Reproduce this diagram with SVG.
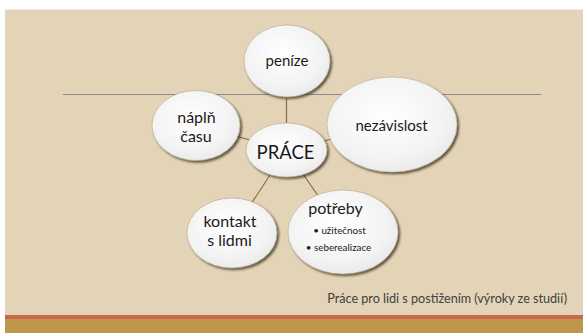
<svg xmlns="http://www.w3.org/2000/svg" width="583" height="333" viewBox="0 0 583 333">
  <defs>
    <radialGradient id="bub" cx="0.45" cy="0.4" r="0.65">
      <stop offset="0" stop-color="#ffffff"/>
      <stop offset="0.7" stop-color="#f3f3f3"/>
      <stop offset="1" stop-color="#e8e8e8"/>
    </radialGradient>
    <filter id="sh" x="-20%" y="-20%" width="150%" height="150%">
      <feGaussianBlur in="SourceAlpha" stdDeviation="1.2"/>
      <feOffset dx="1.5" dy="2" result="b"/>
      <feFlood flood-color="#3a3020" flood-opacity="0.75"/>
      <feComposite in2="b" operator="in"/>
      <feMerge><feMergeNode/><feMergeNode in="SourceGraphic"/></feMerge>
    </filter>
  </defs>
  <style>
    .bubble { fill: url(#bub); stroke: #b8a78a; stroke-width: 0.6; filter: url(#sh); }
    .conn { stroke: #8c6d47; stroke-width: 1.2; fill: none; }
    .t { font-family: Lato, "Liberation Sans", sans-serif; fill: #1a1a1a; text-anchor: middle; }
    .lg { font-size: 16px; }
    .sm { font-size: 9.8px; }
  </style>
  <rect x="0" y="0" width="583" height="333" fill="#ffffff"/>
  <rect x="5" y="9.5" width="578" height="306" fill="#e3d4b7"/>
  <rect x="5" y="315" width="578" height="4" fill="#c8694f"/>
  <rect x="5" y="319" width="578" height="14" fill="#bf974c"/>
  <line x1="63" y1="94.5" x2="541" y2="94.5" stroke="#8a8a8a" stroke-width="1.2"/>

  <g id="connectors">
    <line class="conn" x1="286.5" y1="150" x2="286.5" y2="61"/>
    <line class="conn" x1="286.5" y1="150" x2="196" y2="125.5"/>
    <line class="conn" x1="286.5" y1="150" x2="392" y2="124.5"/>
    <line class="conn" x1="286.5" y1="150" x2="232" y2="233"/>
    <line class="conn" x1="286.5" y1="150" x2="343" y2="232"/>
  </g>

  <g id="penize">
    <ellipse class="bubble" cx="287" cy="61" rx="43" ry="36"/>
    <text class="t" x="287" y="66" font-size="15">peníze</text>
  </g>
  <g id="naplne">
    <ellipse class="bubble" cx="196" cy="125.5" rx="44" ry="35"/>
    <text class="t lg" x="196.5" y="123">náplň</text>
    <text class="t lg" x="196" y="142">času</text>
  </g>
  <g id="nezavislost">
    <ellipse class="bubble" cx="392" cy="124.5" rx="65" ry="47.5"/>
    <text class="t" x="391.5" y="131" font-size="15">nezávislost</text>
  </g>
  <g id="prace">
    <ellipse class="bubble" cx="286.5" cy="150" rx="40.5" ry="27"/>
    <text class="t" x="285.5" y="159" font-size="18.5">PRÁCE</text>
  </g>
  <g id="kontakt">
    <ellipse class="bubble" cx="232" cy="233" rx="45" ry="35"/>
    <text class="t lg" x="230" y="227">kontakt</text>
    <text class="t lg" x="229.5" y="246">s lidmi</text>
  </g>
  <g id="potreby">
    <ellipse class="bubble" cx="343" cy="232" rx="55" ry="42"/>
    <text class="t lg" x="335.5" y="214">potřeby</text>
    <text class="t sm" x="339.5" y="234">• užitečnost</text>
    <text class="t sm" x="338.5" y="251">• seberealizace</text>
  </g>
  <text x="567" y="303" font-family="Lato, 'Liberation Sans', sans-serif" font-size="12.6" fill="#404040" text-anchor="end">Práce pro lidi s postižením (výroky ze studií)</text>
</svg>
